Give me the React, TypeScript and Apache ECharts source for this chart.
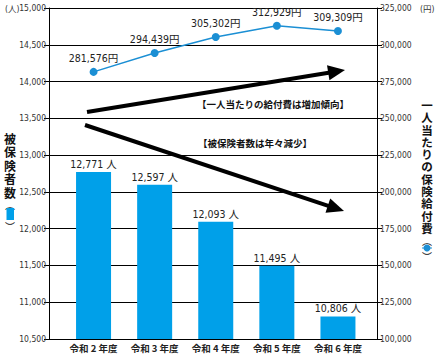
import React, { useEffect, useRef } from "react";
import * as echarts from "echarts";

const categories = ["令和 2 年度", "令和 3 年度", "令和 4 年度", "令和 5 年度", "令和 6 年度"];
const insuredCounts = [12771, 12597, 12093, 11495, 10806];
const benefitPerPerson = [281576, 294439, 305302, 312929, 309309];
const leftTitleChars = ["被", "保", "険", "者", "数"];
const rightTitleChars = ["一", "人", "当", "た", "り", "の", "保", "険", "給", "付", "費"];
const noteUp = "【一人当たりの給付費は増加傾向】";
const noteDown = "【被保険者数は年々減少】";

const BAR = "#00a0e9";
const LINE = "#1b8fd4";
const NUM_FONT = "'Liberation Sans Narrow', 'DejaVu Sans Condensed', 'Noto Sans CJK JP', sans-serif";
const CJK = "'Noto Sans CJK JP', sans-serif";

const fmt = (v: number) => v.toLocaleString("en-US");

function arrow(x1: number, y1: number, tx: number, ty: number) {
  const dx = tx - x1, dy = ty - y1;
  const len = Math.sqrt(dx * dx + dy * dy);
  const ux = dx / len, uy = dy / len;
  const hl = 17, hw = 7.5;
  const bx = tx - ux * hl, by = ty - uy * hl;
  const nx = -uy, ny = ux;
  return [
    { type: "line", shape: { x1, y1, x2: bx + ux * 2, y2: by + uy * 2 }, style: { stroke: "#000", lineWidth: 4 } },
    {
      type: "polygon",
      shape: { points: [[tx, ty], [bx + nx * hw, by + ny * hw], [bx - nx * hw, by - ny * hw]] },
      style: { fill: "#000" },
    },
  ];
}

function vText(x: number, y: number, text: string, fontSize: number, lineHeight: number, bold = true, vAlign = "middle") {
  return {
    type: "text", x, y,
    style: {
      text, fontSize, lineHeight, fontWeight: bold ? "bold" : "normal", fontFamily: CJK, fill: "#111",
      align: "center", verticalAlign: vAlign,
    },
  };
}

export default function App() {
  const ref = useRef<HTMLDivElement>(null);
  useEffect(() => {
    if (!ref.current) return;
    const chart = echarts.init(ref.current, null, { renderer: "svg" });
    const axisLabel = { fontSize: 8.5, color: "#333", fontFamily: NUM_FONT, margin: 3 };
    const graphics: any[] = [];
    graphics.push(vText(10, 131.25, leftTitleChars.join("\n"), 12, 13.5, true, "top"));
    graphics.push(vText(10, 204, "︵", 10, 9, false));
    graphics.push({ type: "rect", shape: { x: 6.5, y: 208, width: 7.5, height: 12 }, style: { fill: BAR } });
    graphics.push(vText(10, 226, "︶", 10, 9, false));
    graphics.push(vText(427, 98.85, rightTitleChars.join("\n"), 11.5, 12.3, true, "top"));
    graphics.push(vText(427, 240, "︵", 10, 9, false));
    graphics.push({ type: "line", shape: { x1: 422, y1: 248, x2: 432, y2: 248 }, style: { stroke: LINE, lineWidth: 1 } });
    graphics.push({ type: "circle", shape: { cx: 427, cy: 248, r: 3.5 }, style: { fill: LINE } });
    graphics.push(vText(427, 256, "︶", 10, 9, false));
    graphics.push({ type: "text", x: 5, y: 9, style: { text: "(人)", fontSize: 8.5, fontFamily: NUM_FONT, fill: "#333", align: "left", verticalAlign: "middle" } });
    graphics.push({ type: "text", x: 420, y: 9, style: { text: "(円)", fontSize: 8.5, fontFamily: NUM_FONT, fill: "#333", align: "left", verticalAlign: "middle" } });
    graphics.push(...arrow(87, 112, 345, 70));
    graphics.push(...arrow(85, 125, 344, 211));
    graphics.push({ type: "text", x: 197, y: 104, style: { text: noteUp, fontSize: 9.5, fontWeight: "bold", fontFamily: CJK, fill: "#111", align: "left", verticalAlign: "middle" } });
    graphics.push({ type: "text", x: 198, y: 143, style: { text: noteDown, fontSize: 9.5, fontWeight: "bold", fontFamily: CJK, fill: "#111", align: "left", verticalAlign: "middle" } });

    chart.setOption({
      animation: false,
      backgroundColor: "#fff",
      grid: [
        { left: 49, right: 60, top: 8, bottom: 17 },
        { left: 63, right: 68.5, top: 8, bottom: 17 },
      ],
      xAxis: [
        { gridIndex: 0, type: "category", data: categories, show: false },
        {
          gridIndex: 1, type: "category", data: categories,
          axisLine: { show: false }, axisTick: { show: false },
          axisLabel: { fontSize: 9.5, fontWeight: "bold", color: "#222", fontFamily: CJK, margin: 4, interval: 0 },
        },
      ],
      yAxis: [
        {
          gridIndex: 0, type: "value", min: 10500, max: 15000, interval: 500, position: "left",
          axisLine: { show: true, lineStyle: { color: "#000", width: 1 } },
          axisTick: { show: true, length: 5, lineStyle: { color: "#000" } },
          splitLine: { show: true, lineStyle: { color: "#000", width: 1 } },
          axisLabel: { ...axisLabel, formatter: (v: number) => fmt(v) },
        },
        {
          gridIndex: 0, type: "value", min: 100000, max: 325000, interval: 25000, position: "right",
          axisLine: { show: true, lineStyle: { color: "#000", width: 1 } },
          axisTick: { show: true, length: 5, lineStyle: { color: "#000" } },
          splitLine: { show: false },
          axisLabel: { ...axisLabel, margin: 3, formatter: (v: number) => fmt(v) },
        },
        { gridIndex: 1, type: "value", min: 10500, max: 15000, show: false },
        { gridIndex: 1, type: "value", min: 100000, max: 325000, show: false },
      ],
      series: [
        {
          type: "bar", xAxisIndex: 1, yAxisIndex: 2, data: insuredCounts, barWidth: 35,
          itemStyle: { color: BAR },
          label: {
            show: true, position: "top", distance: 3, fontSize: 10.5, color: "#222", fontFamily: NUM_FONT,
            formatter: (p: any) => fmt(p.value) + " 人",
          },
        },
        {
          type: "line", xAxisIndex: 1, yAxisIndex: 3, data: benefitPerPerson, symbol: "circle", symbolSize: 8,
          lineStyle: { color: LINE, width: 1.5 }, itemStyle: { color: LINE },
          label: {
            show: true, position: "top", distance: 5, fontSize: 10.5, color: "#222", fontFamily: NUM_FONT,
            formatter: (p: any) => fmt(p.value) + "円",
          },
        },
      ],
      graphic: graphics,
    });
    return () => chart.dispose();
  }, []);
  return <div ref={ref} style={{ width: 437, height: 356, position: "absolute", left: 0, top: 0 }} />;
}
